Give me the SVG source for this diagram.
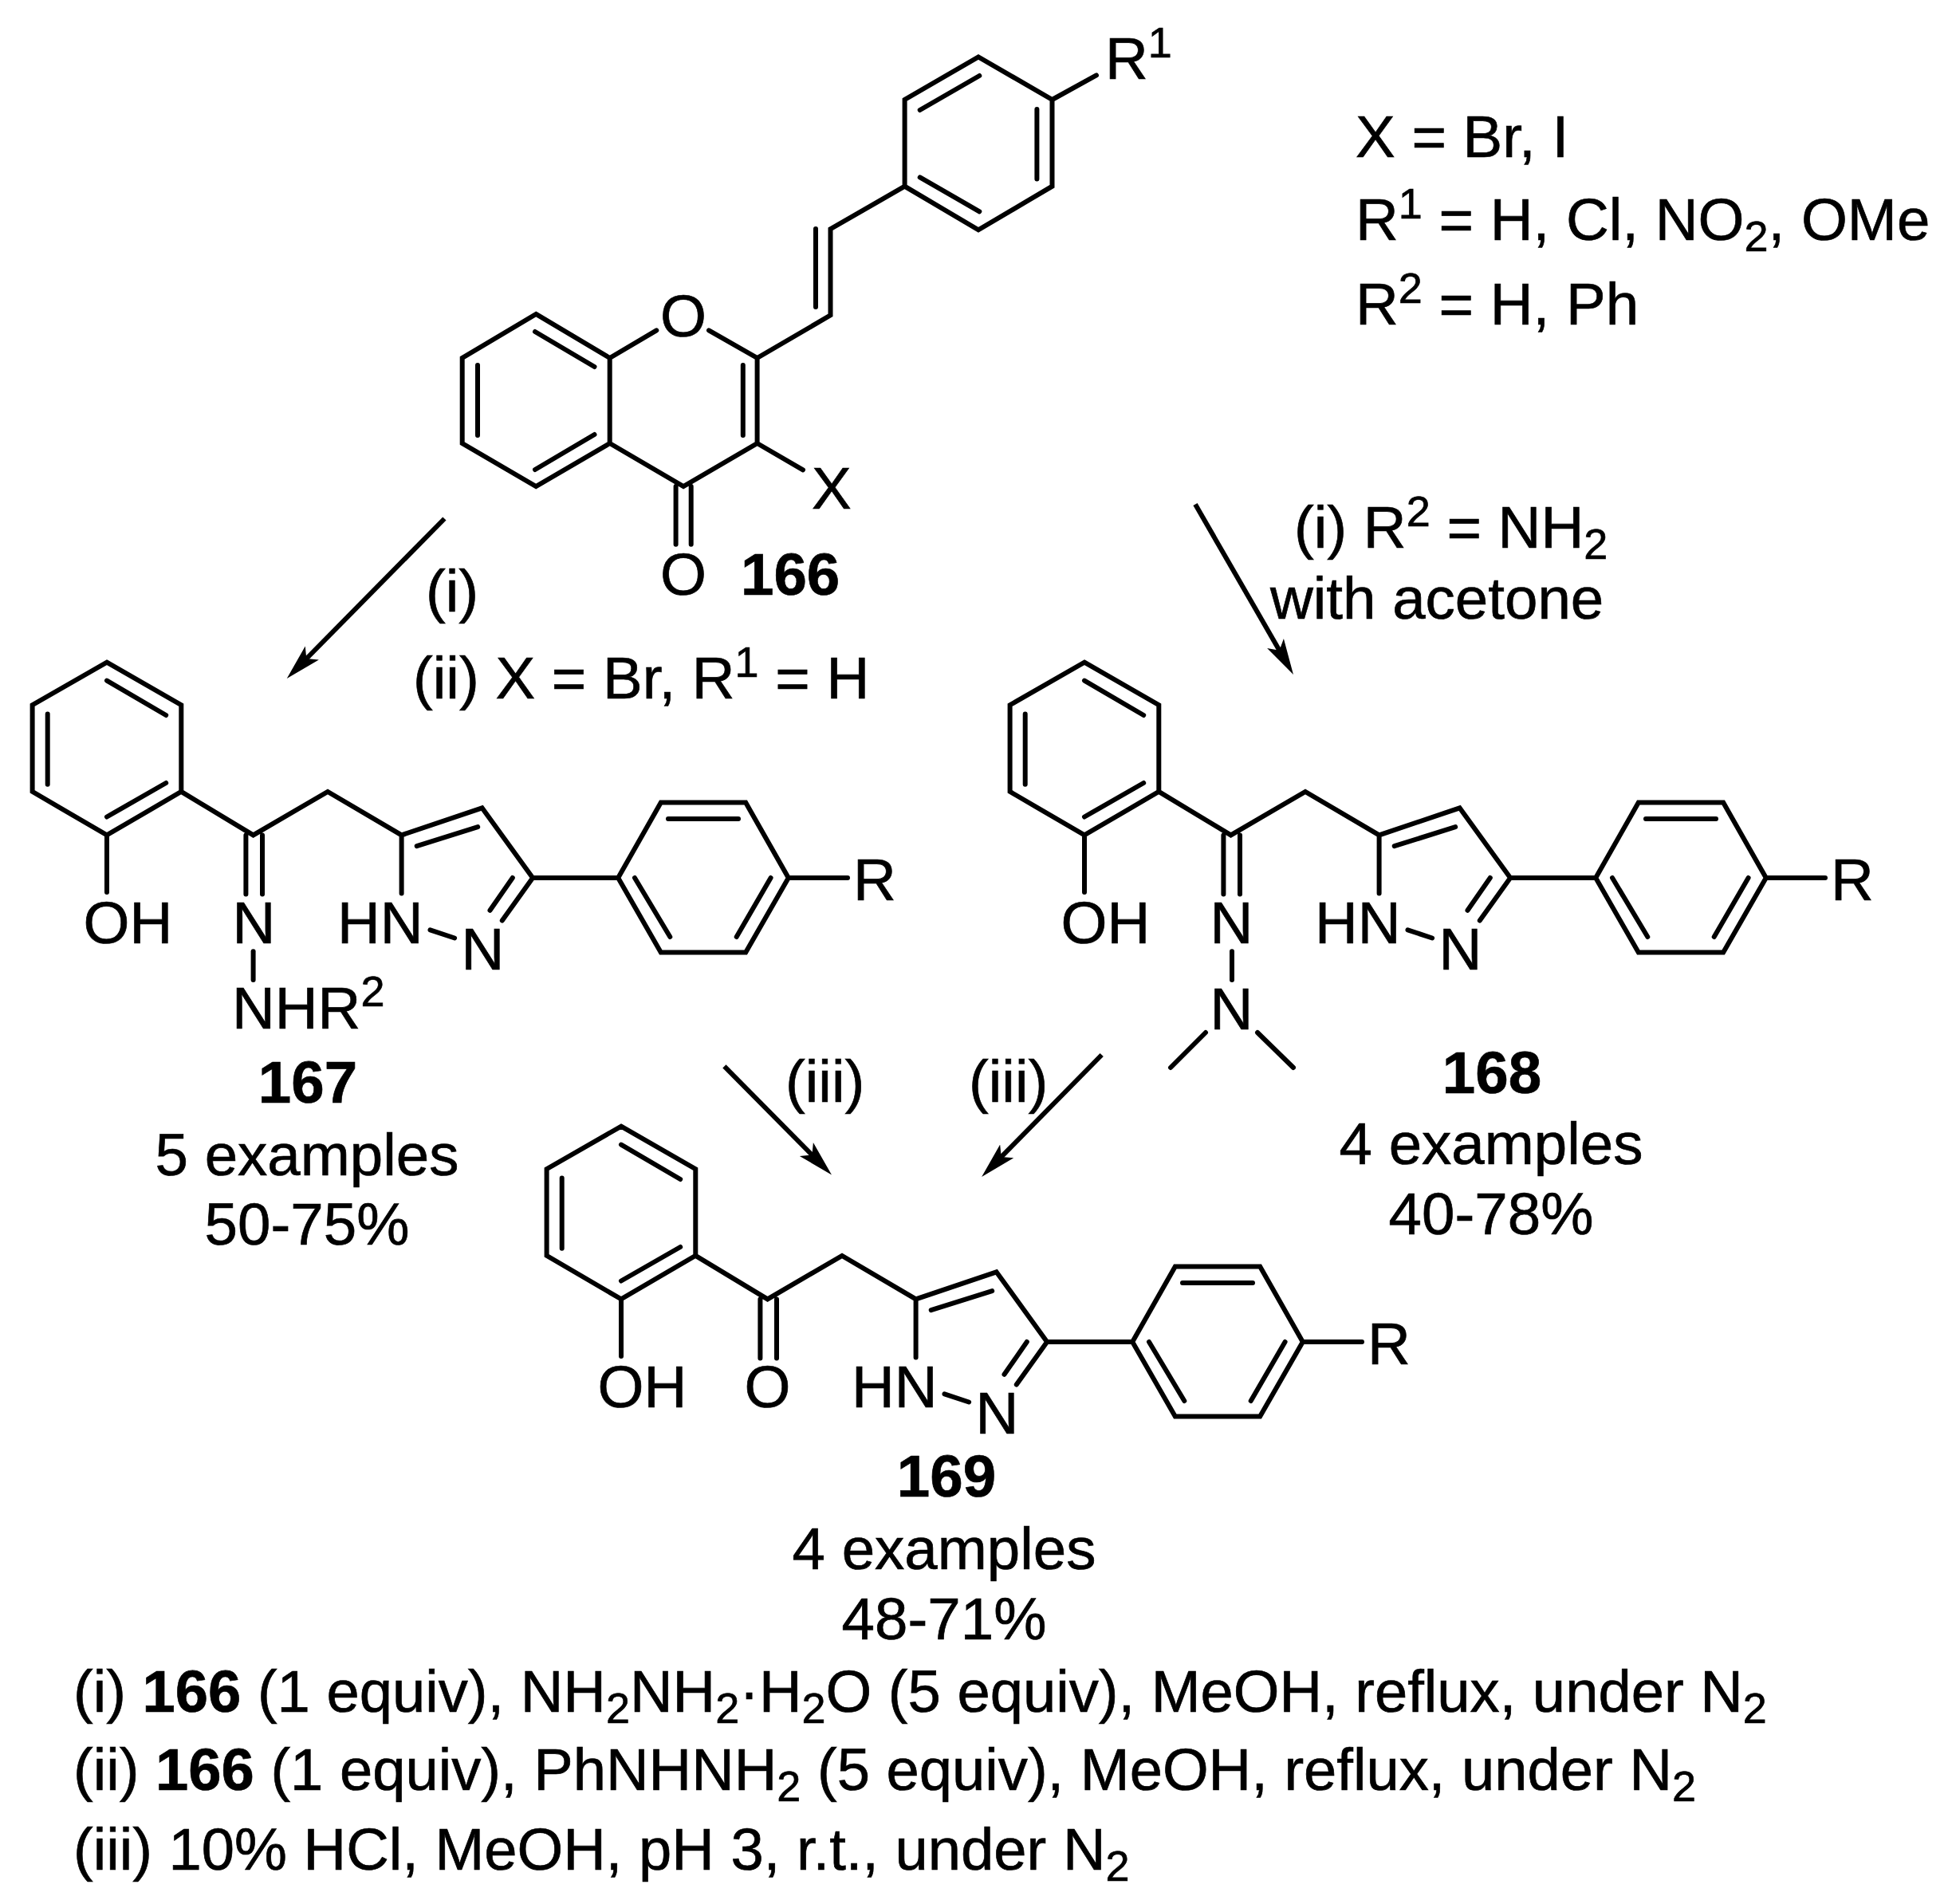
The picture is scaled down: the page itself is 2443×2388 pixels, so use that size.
<svg xmlns="http://www.w3.org/2000/svg" width="2443" height="2388" viewBox="0 0 2443 2388">
<style>
text{font-family:"Liberation Sans",Arial,sans-serif;font-size:74.5px;fill:#000;stroke:#000;stroke-width:.7}
.b{font-weight:bold}
.m{text-anchor:middle}
.c{font-size:74.2px}
.s{font-size:54px}
.bond{fill:none;stroke:#000;stroke-width:6;stroke-linecap:round;stroke-linejoin:miter}
.arrow{fill:none;stroke:#000;stroke-width:6}
</style>
<defs>
<marker id="head" markerUnits="userSpaceOnUse" markerWidth="50" markerHeight="34" refX="12" refY="17" orient="auto">
<path d="M0 5L45 17L0 29L10 17Z" fill="#000"/>
</marker>
<path id="core" class="bond" d="M134 830.6L227.3 884.2V992.9L134 1047.4L40.6 992.9V884.2ZM134 853.6L208.2 897M59.7 895.4V983.7M134 1024.5L208.2 982M134 1047.4V1119M227.3 992.9L317.6 1047.4L411 992.9L503.6 1047.4L604.6 1013.3L668.1 1101L629.8 1154.6M522.7 1061.2L599.2 1037.2M642.8 1101L614.5 1141.8M503.6 1047.4V1120.4M539.5 1166.3L570.1 1176.5M308.4 1047.4V1121.4M329 1047.4V1121.4M668.1 1101H775.2L828.8 1006.6H935.2L988.8 1101L935.2 1194.4H828.8L775.2 1101M838 1027H926M796 1101L840.3 1175M966.6 1101L923.7 1175M988.8 1101H1063"/>
</defs>
<rect width="2443" height="2388" fill="#fff"/>
<g id="connectors">
<line class="arrow" x1="557.4" y1="650.5" x2="382.9" y2="827.5" marker-end="url(#head)"/>
<line class="arrow" x1="1499" y1="632.5" x2="1605.5" y2="817.4" marker-end="url(#head)"/>
<line class="arrow" x1="908.4" y1="1337.3" x2="1019.8" y2="1450" marker-end="url(#head)"/>
<line class="arrow" x1="1381.7" y1="1323" x2="1254.3" y2="1452.4" marker-end="url(#head)"/>
</g>
<g id="node-166">
<path class="bond" d="M672.2 393.9L764.7 449V556L672.2 610L579.7 556V449ZM671 416L745.5 460M599 458V546M671 589L745.5 545M764.7 449L823.3 414.3M889 414.3L949.6 449V556L857.1 610L764.7 556M931.8 458V546M949.6 449L1041.5 395.4V287.2L1134.6 233.7M1023 287V385M1134.6 233.7V125L1227 71.4L1319.5 125V233.7L1227 288.3ZM1153.7 138L1228.3 95M1300.4 137V224.5M1153.7 222.4L1228.3 265.3M1319.5 125L1375 94.4M949.6 556L1007 589.3M847.6 610V682.7M866.7 610V682.7"/>
<text class="m" x="857" y="422">O</text>
<text x="1018" y="638">X</text>
<text class="m" x="857" y="746">O</text>
<text class="b" x="929" y="746">166</text>
<text x="1386" y="99">R<tspan class="s" dy="-27">1</tspan></text>
</g>
<g id="node-167">
<use href="#core"/>
<text x="104.5" y="1183">OH</text>
<text class="m" x="318.5" y="1183">N</text>
<path class="bond" d="M317.6 1193.3V1229"/>
<text x="423" y="1183">HN</text>
<text class="m" x="605.5" y="1216">N</text>
<text class="m" x="1097" y="1129">R</text>
<text x="291" y="1290">NHR<tspan class="s" dy="-28">2</tspan></text>
<text class="b m" x="386" y="1383">167</text>
<text class="m" x="385" y="1473.5">5 examples</text>
<text class="m" x="385" y="1561">50-75%</text>
</g>
<g id="node-168">
<use href="#core" x="1226"/>
<text x="1330.5" y="1183">OH</text>
<text class="m" x="1544.5" y="1183">N</text>
<path class="bond" d="M1545 1193.3V1229M1468 1339L1512 1295M1622 1339L1577 1295"/>
<text x="1649" y="1183">HN</text>
<text class="m" x="1831.5" y="1216">N</text>
<text class="m" x="2323" y="1129">R</text>
<text class="m" x="1544.5" y="1291">N</text>
<text class="b m" x="1871" y="1371">168</text>
<text class="m" x="1870" y="1460">4 examples</text>
<text class="m" x="1870" y="1548">40-78%</text>
</g>
<g id="node-169">
<use href="#core" x="645" y="582"/>
<text x="749.5" y="1765">OH</text>
<text class="m" x="962.6" y="1765">O</text>
<text x="1068" y="1765">HN</text>
<text class="m" x="1250.5" y="1798">N</text>
<text class="m" x="1742" y="1711">R</text>
<text class="b m" x="1187" y="1877">169</text>
<text class="m" x="1184" y="1968">4 examples</text>
<text class="m" x="1184" y="2056">48-71%</text>
</g>
<g id="labels">
<text x="534" y="766.5">(i)</text>
<text x="518" y="875.5">(ii) X = Br, R<tspan class="s" dy="-27">1</tspan><tspan dy="27"> = H</tspan></text>
<text x="1623" y="687">(i) R<tspan class="s" dy="-27">2</tspan><tspan dy="27"> = NH</tspan><tspan class="s" dy="14">2</tspan></text>
<text x="1593" y="776">with acetone</text>
<text x="985" y="1381.6">(iii)</text>
<text x="1215" y="1382">(iii)</text>
</g>
<g id="conditions">
<text x="1700" y="196.5">X = Br, I</text>
<text x="1700" y="301">R<tspan class="s" dy="-27">1</tspan><tspan dy="27"> = H, Cl, NO</tspan><tspan class="s" dy="14">2</tspan><tspan dy="-14">, OMe</tspan></text>
<text x="1700" y="407">R<tspan class="s" dy="-27">2</tspan><tspan dy="27"> = H, Ph</tspan></text>
<text class="c" x="92" y="2147">(i) <tspan class="b">166</tspan> (1 equiv), NH<tspan class="s" dy="14">2</tspan><tspan dy="-14">NH</tspan><tspan class="s" dy="14">2</tspan><tspan dy="-14">·H</tspan><tspan class="s" dy="14">2</tspan><tspan dy="-14">O (5 equiv), MeOH, reflux, under N</tspan><tspan class="s" dy="14">2</tspan></text>
<text class="c" x="92" y="2245">(ii) <tspan class="b">166</tspan> (1 equiv), PhNHNH<tspan class="s" dy="14">2</tspan><tspan dy="-14"> (5 equiv), MeOH, reflux, under N</tspan><tspan class="s" dy="14">2</tspan></text>
<text class="c" x="92" y="2345">(iii) 10% HCl, MeOH, pH 3, r.t., under N<tspan class="s" dy="14">2</tspan></text>
</g>
</svg>
